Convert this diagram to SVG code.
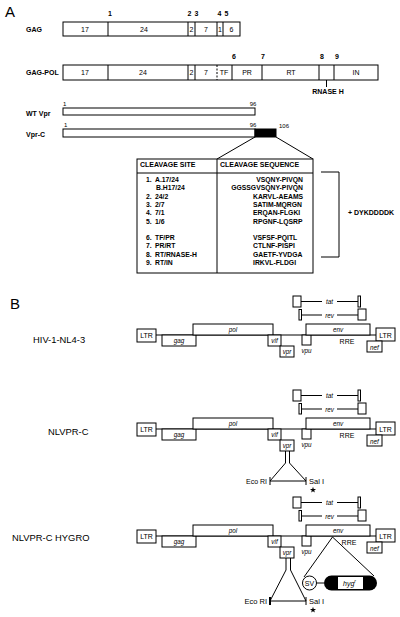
<svg xmlns="http://www.w3.org/2000/svg" xmlns:xlink="http://www.w3.org/1999/xlink" width="400" height="617" viewBox="0 0 400 617">
<style>
text{font-family:"Liberation Sans",Arial,Helvetica,sans-serif;fill:#000;font-size:7px}
.b{font-weight:bold}
.c{text-anchor:middle}
.e{text-anchor:end}
.i{font-style:italic;font-size:6.3px}
.sm{font-size:6px}
.lab{font-size:9.4px}
.big{font-size:15px}
.bx{fill:#fff;stroke:#000;stroke-width:1}
.ln{fill:none;stroke:#000;stroke-width:1}
.tb{font-weight:bold;font-size:6.8px}
</style>
<defs>
<polygon id="star" points="0,-3.2 0.735,-1.011 3.043,-0.989 1.189,0.386 1.881,2.589 0,1.25 -1.881,2.589 -1.189,0.386 -3.043,-0.989 -0.735,-1.011" fill="#000"/>
</defs>
<rect width="400" height="617" fill="#fff"/>

<!-- Panel A -->
<text x="5" y="17" class="big">A</text>

<g id="gag">
<text x="26" y="31.5" class="b">GAG</text>
<rect class="bx" x="63" y="22" width="177" height="14"/>
<path class="ln" d="M108 22V36M188 22V36M195 22V36M217 22V36M223 22V36"/>
<text class="c" x="85" y="31.5">17</text>
<text class="c" x="144" y="31.5">24</text>
<text class="c" x="191.5" y="31.5">2</text>
<text class="c" x="206" y="31.5">7</text>
<text class="c" x="220" y="31.5">1</text>
<text class="c" x="231.5" y="31.5">6</text>
<text class="b c" x="110" y="15.5">1</text>
<text class="b c" x="189.5" y="15.5">2</text>
<text class="b c" x="196.5" y="15.5">3</text>
<text class="b c" x="219.5" y="15.5">4</text>
<text class="b c" x="226.5" y="15.5">5</text>
</g>

<g id="gag-pol">
<text x="26" y="75" class="b">GAG-POL</text>
<rect class="bx" x="63" y="65" width="315" height="15"/>
<path class="ln" d="M108 65V80M188 65V80M195 65V80M232 65V80M262 65V80M319 65V80M334 65V80"/>
<path class="ln" d="M217 65V80" stroke-dasharray="2,1.5"/>
<text class="c" x="85" y="75">17</text>
<text class="c" x="143" y="75">24</text>
<text class="c" x="191.5" y="75">2</text>
<text class="c" x="206" y="75">7</text>
<text class="c" x="224" y="75">TF</text>
<text class="c" x="247" y="75">PR</text>
<text class="c" x="291" y="75">RT</text>
<text class="c" x="356" y="75">IN</text>
<text class="b c" x="234" y="58.5">6</text>
<text class="b c" x="263" y="58.5">7</text>
<text class="b c" x="322" y="58.5">8</text>
<text class="b c" x="337" y="58.5">9</text>
<path class="ln" d="M326.5 80V87"/>
<text class="b c" x="328" y="94">RNASE H</text>
</g>

<g id="wt-vpr">
<text x="26" y="115.5" class="b">WT Vpr</text>
<rect class="bx" x="63" y="108" width="192" height="7"/>
<text class="sm" x="63" y="106">1</text>
<text class="sm c" x="253" y="106">96</text>
</g>

<g id="vpr-c">
<text x="26" y="137" class="b">Vpr-C</text>
<rect class="bx" x="63" y="129" width="192" height="8"/>
<rect x="255" y="129" width="21" height="8" fill="#000" stroke="#000"/>
<text class="sm" x="64" y="127">1</text>
<text class="sm c" x="253" y="127">96</text>
<text class="sm" x="279" y="128">106</text>
</g>

<g id="connectors-a">
<path class="ln" d="M255 137L217 159M276 137L313 159"/>
<path class="ln" d="M321 172H339V257H321"/>
</g>

<g id="table">
<rect class="bx" x="137" y="159" width="176" height="114"/>
<path class="ln" d="M137 173H313M217 159V273"/>
<text class="b" x="140" y="167">CLEAVAGE SITE</text>
<text class="b" x="220" y="167">CLEAVAGE SEQUENCE</text>
<g class="tb">
<text class="tb" x="146" y="182">1.</text><text class="tb" x="155" y="182">A.17/24</text>
<text class="tb" x="156" y="190.3">B.H17/24</text>
<text class="tb" x="146" y="198.6">2.</text><text class="tb" x="155" y="198.6">24/2</text>
<text class="tb" x="146" y="206.9">3.</text><text class="tb" x="155" y="206.9">2/7</text>
<text class="tb" x="146" y="215.2">4.</text><text class="tb" x="155" y="215.2">7/1</text>
<text class="tb" x="146" y="223.5">5.</text><text class="tb" x="155" y="223.5">1/6</text>
<text class="tb" x="146" y="240.1">6.</text><text class="tb" x="155" y="240.1">TF/PR</text>
<text class="tb" x="146" y="248.4">7.</text><text class="tb" x="155" y="248.4">PR/RT</text>
<text class="tb" x="146" y="256.7">8.</text><text class="tb" x="155" y="256.7">RT/RNASE-H</text>
<text class="tb" x="146" y="265">9.</text><text class="tb" x="155" y="265">RT/IN</text>
<text class="tb e" x="303" y="182">VSQNY-PIVQN</text>
<text class="tb e" x="303" y="190.3">GGSSGVSQNY-PIVQN</text>
<text class="tb" x="253" y="198.6">KARVL-AEAMS</text>
<text class="tb" x="253" y="206.9">SATIM-MQRGN</text>
<text class="tb" x="253" y="215.2">ERQAN-FLGKI</text>
<text class="tb" x="253" y="223.5">RPGNF-LQSRP</text>
<text class="tb" x="253" y="240.1">VSFSF-PQITL</text>
<text class="tb" x="253" y="248.4">CTLNF-PISPI</text>
<text class="tb" x="253" y="256.7">GAETF-YVDGA</text>
<text class="tb" x="253" y="265">IRKVL-FLDGI</text>
</g>
</g>
<text class="b" x="348" y="215">+ DYKDDDDK</text>

<!-- Panel B -->
<text x="10" y="309" class="big">B</text>

<g id="hiv1-nl43">
<text class="lab" x="33" y="343">HIV-1-NL4-3</text>
<g id="map1">
<path class="ln" d="M156 335H376"/>
<rect class="bx" x="137" y="329" width="19" height="13"/><text class="c" x="146.5" y="338">LTR</text>
<rect class="bx" x="162" y="335" width="34" height="11"/><text class="i c" x="179" y="343">gag</text>
<rect class="bx" x="193" y="324" width="80" height="11"/><text class="i c" x="233" y="332">pol</text>
<rect class="bx" x="268" y="335" width="13" height="11"/><text class="i c" x="274.5" y="343">vif</text>
<rect class="bx" x="280" y="346" width="14" height="11"/><text class="i c" x="287" y="354">vpr</text>
<rect class="bx" x="302" y="335" width="9" height="10"/><text class="i c" x="306.5" y="353">vpu</text>
<rect class="bx" x="306" y="324" width="64" height="11"/><text class="i c" x="338" y="332">env</text>
<text class="c" x="347" y="344">RRE</text>
<rect class="bx" x="376" y="328" width="19" height="13"/><text class="c" x="385.5" y="337.5">LTR</text>
<rect class="bx" x="367" y="341" width="15" height="11"/><text class="i c" x="374.5" y="349.5">nef</text>
<rect class="bx" x="293" y="296" width="8" height="11"/>
<path class="ln" d="M301 301.5H322M337 301.5H358"/>
<text class="i c" x="329.5" y="304">tat</text>
<rect class="bx" x="358" y="296" width="2.5" height="11"/>
<rect class="bx" x="299" y="309.5" width="2.5" height="10.5"/>
<path class="ln" d="M301.5 315H322M337 315H358"/>
<text class="i c" x="329.5" y="317.5">rev</text>
<rect class="bx" x="358" y="309" width="8" height="11"/>
</g>
</g>

<g id="nlvpr-c">
<text class="lab" x="48" y="435">NLVPR-C</text>
<g id="map2" transform="translate(0,94)">
<path class="ln" d="M156 335H376"/>
<rect class="bx" x="137" y="329" width="19" height="13"/><text class="c" x="146.5" y="338">LTR</text>
<rect class="bx" x="162" y="335" width="34" height="11"/><text class="i c" x="179" y="343">gag</text>
<rect class="bx" x="193" y="324" width="80" height="11"/><text class="i c" x="233" y="332">pol</text>
<rect class="bx" x="268" y="335" width="13" height="11"/><text class="i c" x="274.5" y="343">vif</text>
<rect class="bx" x="280" y="346" width="14" height="11"/><text class="i c" x="287" y="354">vpr</text>
<rect class="bx" x="302" y="335" width="9" height="10"/><text class="i c" x="306.5" y="353">vpu</text>
<rect class="bx" x="306" y="324" width="64" height="11"/><text class="i c" x="338" y="332">env</text>
<text class="c" x="347" y="344">RRE</text>
<rect class="bx" x="376" y="328" width="19" height="13"/><text class="c" x="385.5" y="337.5">LTR</text>
<rect class="bx" x="367" y="341" width="15" height="11"/><text class="i c" x="374.5" y="349.5">nef</text>
<rect class="bx" x="293" y="296" width="8" height="11"/>
<path class="ln" d="M301 301.5H322M337 301.5H358"/>
<text class="i c" x="329.5" y="304">tat</text>
<rect class="bx" x="358" y="296" width="2.5" height="11"/>
<rect class="bx" x="299" y="309.5" width="2.5" height="10.5"/>
<path class="ln" d="M301.5 315H322M337 315H358"/>
<text class="i c" x="329.5" y="317.5">rev</text>
<rect class="bx" x="358" y="309" width="8" height="11"/>
</g>
<g id="vpr-insert-2">
<path class="ln" d="M285.5 451V463L270 481M289.5 451V463L306 481M270 481H306M270 477V485M306 477V485"/>
<text class="e" x="267" y="484" font-size="7.5">Eco RI</text>
<text x="309" y="484" style="font-size:7.5px">Sal I</text>
<use xlink:href="#star" x="313" y="490"/>
</g>
</g>

<g id="nlvpr-c-hygro">
<text class="lab" x="12" y="541">NLVPR-C HYGRO</text>
<g id="map3" transform="translate(0,201)">
<path class="ln" d="M156 335H376"/>
<rect class="bx" x="137" y="329" width="19" height="13"/><text class="c" x="146.5" y="338">LTR</text>
<rect class="bx" x="162" y="335" width="34" height="11"/><text class="i c" x="179" y="343">gag</text>
<rect class="bx" x="193" y="324" width="80" height="11"/><text class="i c" x="233" y="332">pol</text>
<rect class="bx" x="268" y="335" width="13" height="11"/><text class="i c" x="274.5" y="343">vif</text>
<rect class="bx" x="280" y="346" width="14" height="11"/><text class="i c" x="287" y="354">vpr</text>
<rect class="bx" x="302" y="335" width="9" height="10"/><text class="i c" x="306.5" y="353">vpu</text>
<rect class="bx" x="306" y="324" width="64" height="11"/><text class="i c" x="338" y="332">env</text>
<text class="c" x="349" y="344">RRE</text>
<rect class="bx" x="376" y="328" width="19" height="13"/><text class="c" x="385.5" y="337.5">LTR</text>
<rect class="bx" x="367" y="341" width="15" height="11"/><text class="i c" x="374.5" y="349.5">nef</text>
<rect class="bx" x="293" y="296" width="8" height="11"/>
<path class="ln" d="M301 301.5H322M337 301.5H358"/>
<text class="i c" x="329.5" y="304">tat</text>
<rect class="bx" x="358" y="296" width="2.5" height="11"/>
<rect class="bx" x="299" y="309.5" width="2.5" height="10.5"/>
<path class="ln" d="M301.5 315H322M337 315H358"/>
<text class="i c" x="329.5" y="317.5">rev</text>
<rect class="bx" x="358" y="309" width="8" height="11"/>
</g>
<g id="vpr-insert-3">
<path class="ln" d="M286 558V570L270 601M290.5 558V570L306 601M270 601H306M306 597V605"/>
<path d="M270 597V605" stroke="#000" stroke-width="2"/>
<text class="e" x="267" y="604" style="font-size:7.5px">Eco RI</text>
<text x="309" y="604" style="font-size:7.5px">Sal I</text>
<use xlink:href="#star" x="313" y="610"/>
</g>
<g id="hygro-insert">
<path class="ln" d="M332.5 537L304 577M332.5 537L374 576M316.5 583H324"/>
<circle cx="309.5" cy="583" r="7" class="bx"/>
<text class="c" x="309.5" y="585.5">SV</text>
<rect x="324" y="575.5" width="53" height="15" rx="7.5" fill="#000"/>
<rect x="338" y="577" width="25" height="12" fill="#fff"/>
<text x="343" y="586" style="font-style:italic;font-size:7px">hyg<tspan dy="-3" style="font-size:5px">r</tspan></text>
</g>
</g>
</svg>
